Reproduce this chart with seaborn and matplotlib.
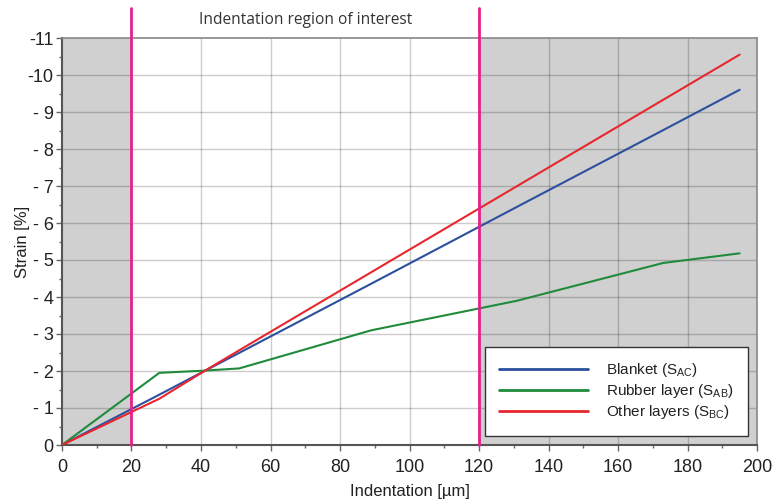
import matplotlib
matplotlib.use("Agg")
import matplotlib.pyplot as plt
import seaborn as sns
import pandas as pd
from matplotlib.ticker import MultipleLocator, FixedLocator

indentation = [0, 28, 41, 51, 89, 131, 173, 195]
blanket = [0, -1.36, -2.0, -2.49, -4.36, -6.44, -8.51, -9.6]
rubber = [0, -1.95, -2.01, -2.07, -3.1, -3.9, -4.92, -5.18]
other = [0, -1.25, -2.0, -2.56, -4.67, -7.0, -9.33, -10.55]
series_names = ["Blanket (S$_{\\mathregular{AC}}$)",
                "Rubber layer (S$_{\\mathregular{AB}}$)",
                "Other layers (S$_{\\mathregular{BC}}$)"]
colors = ["#2c4f9e", "#1f8b3b", "#e8262e"]
region = [20, 120]
x_ticks = [0, 20, 40, 60, 80, 100, 120, 140, 160, 180, 200]
y_ticks = [0, -1, -2, -3, -4, -5, -6, -7, -8, -9, -10, -11]
y_labels = ["0", "- 1", "- 2", "- 3", "- 4", "- 5", "- 6", "- 7", "- 8", "- 9", "-10", "-11"]

rows = []
for name, vals in zip(series_names, [blanket, rubber, other]):
    for x, y in zip(indentation, vals):
        rows.append({"x": x, "y": y, "series": name})
df = pd.DataFrame(rows)

sns.set_style("white")
plt.rcParams["font.family"] = ["Liberation Sans", "DejaVu Sans"]
plt.rcParams["mathtext.fontset"] = "custom"
plt.rcParams["mathtext.rm"] = "Liberation Sans"

fig = plt.figure(figsize=(7.72, 5.0), dpi=100)
ax = fig.add_axes([0.0803, 0.11, 0.9003, 0.814])

# shading
ax.axvspan(0, region[0], color="#d0d0d0", zorder=0, lw=0)
ax.axvspan(region[1], 200, color="#d0d0d0", zorder=0, lw=0)

# grid
for xv in x_ticks[1:-1]:
    ax.axvline(xv, color="black", alpha=0.2, lw=1.0, zorder=1)
for yv in y_ticks[1:-1]:
    ax.axhline(yv, color="black", alpha=0.2, lw=1.0, zorder=1)

sns.lineplot(data=df, x="x", y="y", hue="series", palette=colors,
             linewidth=1.5, ax=ax, zorder=3, sort=False)

ax.set_xlim(0, 200)
ax.set_ylim(0, -11)

for xv in region:
    ax.axvline(xv, ymin=0, ymax=(445 - 8) / (445 - 38), color="#e8208c",
               lw=2.0, clip_on=False, zorder=4)

ax.text((region[0] + region[1]) / 2, -11.5, "Indentation region of interest",
        ha="center", va="center", fontsize=11.2, family=["Open Sans", "DejaVu Sans"],
        color="#333333")

ax.xaxis.set_major_locator(FixedLocator(x_ticks))
ax.xaxis.set_minor_locator(MultipleLocator(10))
ax.yaxis.set_major_locator(FixedLocator(y_ticks))
ax.yaxis.set_minor_locator(MultipleLocator(0.5))
ax.set_yticklabels(y_labels)
ax.tick_params(axis="both", which="major", direction="out", length=4, width=1,
               color="#666666", labelsize=13, labelcolor="#222222")
ax.tick_params(axis="x", which="major", pad=6)
ax.tick_params(axis="y", which="major", pad=2)
ax.tick_params(axis="both", which="minor", direction="out", length=2.5, width=1,
               color="#666666")
ax.tick_params(left=True, bottom=True, which="both")

for side in ["left", "bottom"]:
    ax.spines[side].set_color("#555555")
    ax.spines[side].set_linewidth(1.5)
for side in ["top", "right"]:
    ax.spines[side].set_color("#888888")
    ax.spines[side].set_linewidth(1.2)
    ax.spines[side].set_visible(True)

ax.set_xlabel("Indentation [µm]", fontsize=12, color="#222222", labelpad=6)
ax.set_ylabel("Strain [%]", fontsize=12, color="#222222", labelpad=-2)

leg = ax.legend(loc="lower right", fontsize=11, handlelength=5.8,
                handletextpad=1.15, labelspacing=0.2, borderpad=0.95,
                borderaxespad=0.6, frameon=True, fancybox=False,
                edgecolor="#333333", framealpha=1.0)
leg.get_frame().set_linewidth(1.0)
for line in leg.get_lines():
    line.set_linewidth(2.0)
for t in leg.get_texts():
    t.set_color("#222222")

fig.savefig("out.png", dpi=100)
